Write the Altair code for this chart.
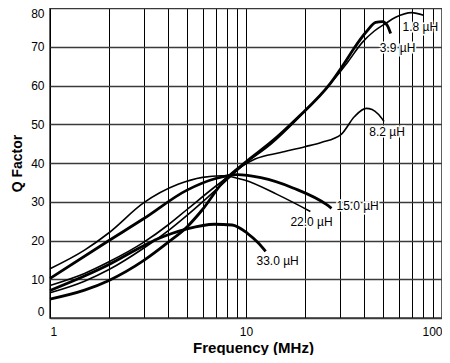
import altair as alt
import pandas as pd

# Grid / tick values
GRID_F = [1, 2, 3, 4, 5, 6, 7, 8, 9, 10, 20, 30, 40, 50, 60, 70, 80, 90, 100]
GRID_Q = [0, 10, 20, 30, 40, 50, 60, 70, 80]

# Curves: frequency (MHz) and Q factor
F_18 = [1, 1.5, 2, 3, 4, 5, 7, 10, 13.5, 18, 27, 33, 39, 45, 51.5, 58, 70, 80.5]
Q_18 = [6.5, 9.5, 12.5, 18, 22.5, 26.5, 33, 40, 45, 51, 60.5, 66, 71, 74, 76, 77.6, 78.8, 78.1]

F_39 = [1, 1.5, 2, 3, 4, 5, 6, 7.6, 10, 13.5, 18, 27, 32.5, 35.6, 41, 45.9, 49.7, 52.6, 54.7]
Q_39 = [4.9, 7.2, 9.7, 14.8, 19.5, 23.5, 28, 35, 40.3, 45.5, 51.3, 60.6, 66.5, 69.6, 73.8, 76.3, 76.5, 75.5, 73.4]

F_82 = [1, 1.5, 2, 3, 4, 5, 7, 10, 11.2, 15, 20, 24.2, 30.6, 35.8, 41, 44, 47.5, 50.6]
Q_82 = [8.4, 11.5, 14.5, 19.5, 24, 28, 34, 39.8, 41.1, 42.7, 44.2, 45.3, 47.4, 52, 54.1, 53.8, 52.5, 50.7]

F_150 = [1, 2, 3, 5, 7, 9, 11.9, 17.5, 25.7, 27.3]
Q_150 = [10.2, 20, 25.6, 33, 36, 37, 36.2, 33.5, 29.3, 28.3]

F_220 = [1, 1.5, 2, 3, 4.5, 6, 7.5, 9.8, 14.4, 21.3]
Q_220 = [12.7, 17.5, 22, 29.7, 34.5, 36.3, 36.7, 35.6, 31.9, 27.5]

F_330 = [1, 2, 2.84, 3.58, 4.18, 5, 6.9, 8.5, 10.2, 11.5, 12.6]
Q_330 = [7.1, 13.8, 18, 20.5, 21.8, 23, 24.2, 24, 21.8, 19.5, 17.2]

CURVE_NAMES = ["1.8 µH", "3.9 µH", "8.2 µH", "15.0 µH", "22.0 µH", "33.0 µH"]
CURVE_WEIGHT = ["thin", "thick", "thin", "thick", "thin", "thick"]
CURVE_F = [F_18, F_39, F_82, F_150, F_220, F_330]
CURVE_Q = [Q_18, Q_39, Q_82, Q_150, Q_220, Q_330]

# Curve labels
LABEL_TEXT = ["1.8 µH", "3.9 µH", "8.2 µH", "15.0 µH", "22.0 µH", "33.0 µH"]
LABEL_F = [77.5, 59.3, 52.5, 37.1, 21.6, 14.5]
LABEL_Q = [75.0, 69.7, 47.9, 28.9, 24.7, 14.6]

rows = []
for name, w, fs, qs in zip(CURVE_NAMES, CURVE_WEIGHT, CURVE_F, CURVE_Q):
    for i, (f, q) in enumerate(zip(fs, qs)):
        rows.append({"name": name, "w": w, "f": f, "q": q, "order": i})
df = pd.DataFrame(rows)
lab = pd.DataFrame({"t": LABEL_TEXT, "f": LABEL_F, "q": LABEL_Q})

FONT = "Liberation Sans"

x_enc = alt.X(
    "f:Q",
    scale=alt.Scale(type="log", domain=[1, 100], nice=False),
    axis=alt.Axis(
        values=GRID_F,
        labelExpr="(datum.value == 1 || datum.value == 10 || datum.value == 100) ? datum.label : ''",
        labelFlush=True,
        labelOverlap=False,
        labelFont=FONT, labelFontSize=12, labelColor="black",
        labelPadding=8, ticks=False, domain=False,
        grid=True, gridColor="#000000", gridWidth=1, gridOpacity=1,
        title="Frequency (MHz)", titleFont=FONT, titleFontSize=15,
        titleFontWeight="bold", titleColor="black",
        titleX=203, titleY=29, titleBaseline="middle",
    ),
)
y_enc = alt.Y(
    "q:Q",
    scale=alt.Scale(domain=[0, 80], nice=False, zero=False),
    axis=alt.Axis(
        values=GRID_Q,
        labelFlush=True,
        labelFont=FONT, labelFontSize=12, labelColor="black",
        labelPadding=6, ticks=False, domain=False,
        grid=True, gridColor="#3a3a3a", gridWidth=1.6, gridOpacity=1,
        title="Q Factor", titleFont=FONT, titleFontSize=14,
        titleFontWeight="bold", titleColor="black",
        titleX=-33, titleY=155, titleBaseline="middle",
    ),
)

lines = alt.Chart(df).mark_line(interpolate="monotone", color="black").encode(
    x=x_enc,
    y=y_enc,
    detail="name:N",
    order="order:Q",
    strokeWidth=alt.StrokeWidth(
        "w:N", scale=alt.Scale(domain=["thin", "thick"], range=[1.6, 2.8]), legend=None
    ),
)

text_bg = alt.Chart(lab).mark_text(
    font=FONT, fontSize=12, color="white", stroke="white", strokeWidth=3
).encode(x=x_enc, y=y_enc, text="t:N")

text_fg = alt.Chart(lab).mark_text(
    font=FONT, fontSize=12, color="black"
).encode(x=x_enc, y=y_enc, text="t:N")

chart = (
    alt.layer(lines, text_bg, text_fg)
    .properties(
        width=392,
        height=310,
        autosize=alt.AutoSizeParams(type="none"),
        padding={"left": 42, "top": 0, "right": 0, "bottom": 37},
        background="white",
    )
    .configure_view(stroke="#3a3a3a", strokeWidth=1.6)
)

chart.save("out.html", embed_options={"renderer": "svg", "actions": False})
